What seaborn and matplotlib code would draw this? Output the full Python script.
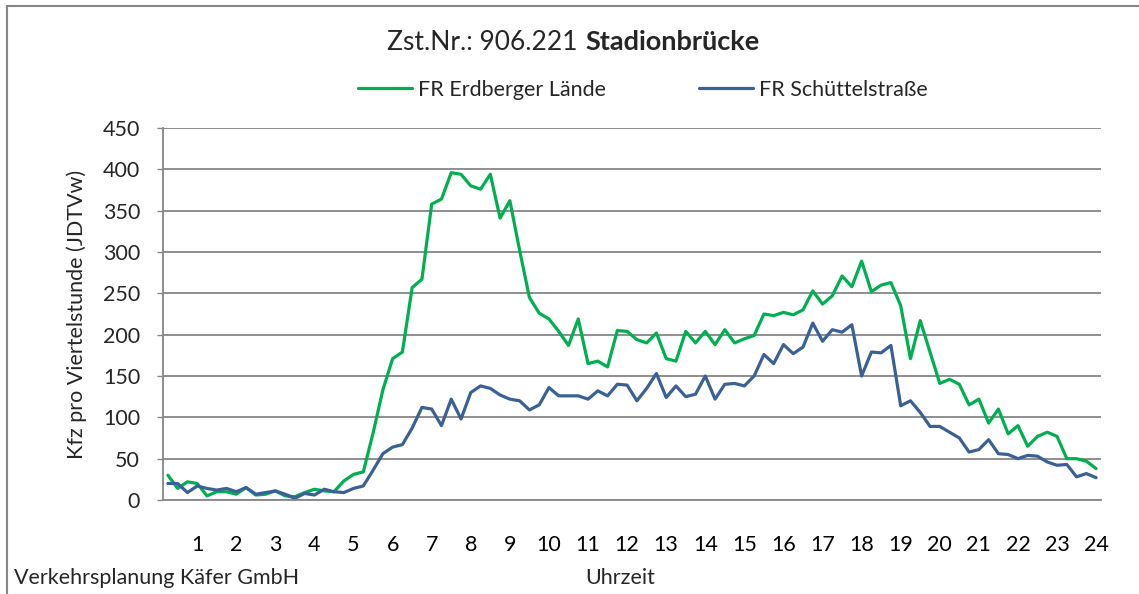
import numpy as np
import pandas as pd
import matplotlib
matplotlib.use("Agg")
import matplotlib.pyplot as plt
from matplotlib.lines import Line2D
import seaborn as sns

# ---- data (quarter-hour values, 00:15 ... 24:00) ----
erdberger = [30, 14, 22, 20, 5, 10, 10, 7, 15, 6, 7, 11, 5, 4, 9, 13, 11, 10, 23, 31, 34, 81, 133, 171,
             179, 257, 267, 358, 364, 396, 394, 380, 376, 394, 341, 362, 302, 245, 226, 219, 204, 187, 219, 165,
             168, 161, 205, 204, 194, 190, 202, 171, 168, 204, 190, 204, 188, 206, 190, 195, 199, 225, 223, 227,
             224, 230, 253, 237, 247, 271, 258, 289, 252, 260, 263, 235, 171, 217, 179, 141, 146, 140, 115, 122,
             93, 110, 80, 90, 65, 77, 82, 77, 50, 50, 47, 38]
schuettel = [20, 20, 9, 17, 14, 12, 14, 10, 15, 7, 9, 11, 7, 2, 8, 6, 13, 10, 9, 14, 17, 36, 56, 64,
             67, 87, 112, 110, 90, 122, 98, 130, 138, 135, 127, 122, 120, 109, 115, 136, 126, 126, 126, 122,
             132, 126, 140, 139, 120, 135, 153, 124, 138, 125, 128, 150, 122, 140, 141, 138, 150, 176, 165, 188,
             177, 185, 214, 192, 206, 203, 212, 150, 179, 178, 187, 114, 120, 106, 89, 89, 82, 75, 58, 61,
             73, 56, 55, 50, 54, 53, 46, 42, 43, 28, 32, 27]
series_names = ["FR Erdberger Lände", "FR Schüttelstraße"]
hour_labels = [str(h) for h in range(1, 25)]
y_ticks = list(range(0, 451, 50))

colors = {"FR Erdberger Lände": "#00B050", "FR Schüttelstraße": "#3A6196"}
grid_col = "#868686"
FS = 15.5

n = len(erdberger)
pos = np.arange(n) + 0.5
df = pd.DataFrame({
    "pos": np.concatenate([pos, pos]),
    "val": erdberger + schuettel,
    "series": [series_names[0]] * n + [series_names[1]] * n,
})

sns.set_theme(style="white")
plt.rcParams["font.family"] = ["Lato", "DejaVu Sans"]

fig = plt.figure(figsize=(11.39, 5.94), dpi=100)
ax = fig.add_axes([163 / 1139, 1 - 500 / 594, (1101 - 163) / 1139, (500 - 128) / 594])

sns.lineplot(data=df, x="pos", y="val", hue="series", palette=colors, linewidth=2.3,
             ax=ax, legend=False, sort=False)

ax.set_xlim(0, n)
ax.set_ylim(0, 450)
ax.set_yticks(y_ticks)
ax.set_yticklabels([str(v) for v in y_ticks], fontsize=FS)
ax.yaxis.grid(True, color=grid_col, linewidth=1.3)
ax.set_axisbelow(True)

ax.set_xticks(pos[3::4])
ax.set_xticklabels(hour_labels, fontsize=FS)
ax.set_xticks(np.arange(0, n + 1), minor=True)
ax.tick_params(axis="x", which="major", length=0, pad=25, labelcolor="black")
ax.tick_params(axis="x", which="minor", length=4.5, width=1.0, color=grid_col, direction="out")
ax.tick_params(axis="y", which="major", length=4.5, width=1.0, color=grid_col, pad=12, left=True)

for s in ["top", "right"]:
    ax.spines[s].set_visible(False)
for s in ["left", "bottom"]:
    ax.spines[s].set_color(grid_col)
    ax.spines[s].set_linewidth(1.3)

ax.set_xlabel("")
ax.set_ylabel("Kfz pro Viertelstunde (JDTVw)", fontsize=FS)
ax.yaxis.set_label_coords(-(163 - 87) / 938, 0.5)

# legend
handles = [Line2D([], [], color=colors[s], linewidth=2.3) for s in series_names]
fig.legend(handles, series_names, loc="center", bbox_to_anchor=(643 / 1139, 1 - 90 / 594),
           ncol=2, frameon=False, fontsize=FS, handlelength=2.5, handletextpad=0.3,
           columnspacing=4.3)

# title (regular + bold), sharing one baseline
base_y = 1 - 50 / 594
t1 = fig.text(387 / 1139, base_y, "Zst.Nr.: 906.221", fontsize=19, ha="left", va="baseline")
fig.canvas.draw()
bb = t1.get_window_extent(renderer=fig.canvas.get_renderer())
fig.text((bb.x1 + 8) / 1139, base_y, "Stadionbrücke", fontsize=19.5, fontweight="bold",
         ha="left", va="baseline")

fig.text(14 / 1139, 1 - 578 / 594, "Verkehrsplanung Käfer GmbH", fontsize=FS, ha="left", va="center")
fig.text(620 / 1139, 1 - 578 / 594, "Uhrzeit", fontsize=FS, ha="center", va="center")

# chart border
fig.add_artist(Line2D([7 / 1139, 7 / 1139], [0, 1 - 6 / 594], transform=fig.transFigure,
                      color=grid_col, linewidth=1.5))
fig.add_artist(Line2D([7 / 1139, 1], [1 - 6 / 594, 1 - 6 / 594], transform=fig.transFigure,
                      color=grid_col, linewidth=1.5))

fig.savefig("out.png", dpi=100)
